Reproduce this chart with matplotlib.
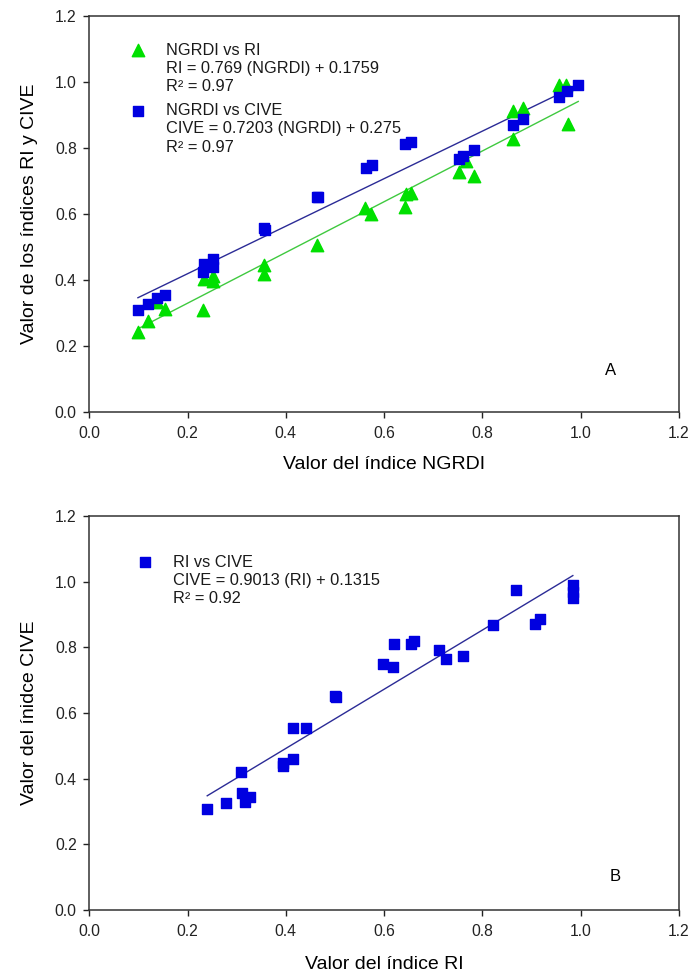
import numpy as np
from matplotlib import pyplot as plt

plt.rcParams['font.family'] = ['Liberation Sans', 'DejaVu Sans']

# Panel A: NGRDI vs RI (triangles) and NGRDI vs CIVE (squares)
ngrdi_ri = [0.099, 0.119, 0.138, 0.154, 0.231, 0.233, 0.252, 0.252, 0.355, 0.355,
            0.463, 0.562, 0.573, 0.642, 0.644, 0.654, 0.753, 0.767, 0.782, 0.863,
            0.863, 0.883, 0.956, 0.970, 0.975]
ri_a = [0.241, 0.277, 0.332, 0.313, 0.310, 0.402, 0.411, 0.396, 0.417, 0.444,
        0.505, 0.618, 0.600, 0.621, 0.661, 0.664, 0.728, 0.761, 0.716, 0.828,
        0.913, 0.922, 0.992, 0.992, 0.874]

ngrdi_cive = [0.099, 0.119, 0.138, 0.154, 0.231, 0.233, 0.252, 0.252, 0.355, 0.358,
              0.463, 0.466, 0.563, 0.575, 0.642, 0.654, 0.753, 0.761, 0.782, 0.863,
              0.883, 0.956, 0.973, 0.995]
cive_a = [0.310, 0.326, 0.344, 0.356, 0.423, 0.447, 0.463, 0.438, 0.557, 0.553,
          0.651, 0.653, 0.738, 0.748, 0.813, 0.819, 0.767, 0.776, 0.795, 0.871,
          0.889, 0.956, 0.974, 0.992]

# Panel B: RI vs CIVE
ri_b = [0.240, 0.278, 0.308, 0.310, 0.317, 0.327, 0.395, 0.395, 0.414, 0.415,
        0.441, 0.500, 0.502, 0.598, 0.618, 0.620, 0.654, 0.661, 0.712, 0.725,
        0.761, 0.822, 0.869, 0.906, 0.918, 0.984, 0.984, 0.984]
cive_b = [0.309, 0.326, 0.419, 0.356, 0.328, 0.343, 0.439, 0.449, 0.461, 0.554,
          0.554, 0.652, 0.648, 0.750, 0.740, 0.810, 0.810, 0.820, 0.792, 0.765,
          0.774, 0.868, 0.973, 0.870, 0.887, 0.990, 0.969, 0.951]

# regression coefficients (slope, intercept)
fit_ri = (0.769, 0.1759)
fit_cive = (0.7203, 0.275)
fit_b = (0.9013, 0.1315)

ticks = [0.0, 0.2, 0.4, 0.6, 0.8, 1.0, 1.2]
green = '#00e000'
blue = '#0000e0'
green_line = '#3fc93f'
blue_line = '#2b2b96'


def style_axes(ax):
    ax.set_xlim(0, 1.2)
    ax.set_ylim(0, 1.2)
    ax.set_xticks(ticks)
    ax.set_yticks(ticks)
    ax.set_xticklabels(['%.1f' % t for t in ticks])
    ax.set_yticklabels(['%.1f' % t for t in ticks])
    ax.tick_params(direction='out', length=4, width=1, labelsize=11.3, pad=5,
                   colors='#222222')
    ax.tick_params(axis='x', pad=6)
    for s in ax.spines.values():
        s.set_linewidth(1.1)
        s.set_color('#333333')


def fit_line(ax, x, coef, color):
    xs = np.array([min(x), max(x)])
    ax.plot(xs, coef[0] * xs + coef[1], color=color, lw=1.0, zorder=2)


def legend_block(ax, xm, xt, y0, marker, color, ms, lines):
    ax.scatter([xm], [y0], marker=marker, s=ms, color=color,
               transform=ax.transAxes, clip_on=False)
    for i, line in enumerate(lines):
        ax.text(xt, y0 - i * 0.0462, line, transform=ax.transAxes,
                fontsize=11.8, va='center', ha='left', color='#1a1a1a')


fig = plt.figure(figsize=(6.91, 9.77), dpi=100)

all_ngrdi = ngrdi_ri + ngrdi_cive

ax1 = fig.add_axes([0.1292, 0.5783, 0.8534, 0.4053])
style_axes(ax1)
fit_line(ax1, all_ngrdi, fit_ri, green_line)
fit_line(ax1, all_ngrdi, fit_cive, blue_line)
ax1.scatter(ngrdi_ri, ri_a, marker='^', s=80, color=green, zorder=3)
ax1.scatter(ngrdi_cive, cive_a, marker='s', s=58, color=blue, zorder=4)
legend_block(ax1, 0.082, 0.130, 0.914, '^', green, 80,
             ['NGRDI vs RI', 'RI = 0.769 (NGRDI) + 0.1759', 'R\u00b2 = 0.97'])
legend_block(ax1, 0.082, 0.130, 0.761, 's', blue, 58,
             ['NGRDI vs CIVE', 'CIVE = 0.7203 (NGRDI) + 0.275', 'R\u00b2 = 0.97'])
ax1.text(0.884, 0.104, 'A', transform=ax1.transAxes, fontsize=12,
         ha='center', va='center')
ax1.set_xlabel('Valor del índice NGRDI', fontsize=14, labelpad=11)
ax1.set_ylabel('Valor de los índices RI y CIVE', fontsize=14, labelpad=12)

ax2 = fig.add_axes([0.1292, 0.0686, 0.8534, 0.4033])
style_axes(ax2)
fit_line(ax2, ri_b, fit_b, blue_line)
ax2.scatter(ri_b, cive_b, marker='s', s=58, color=blue, zorder=4)
legend_block(ax2, 0.094, 0.142, 0.883, 's', blue, 58,
             ['RI vs CIVE', 'CIVE = 0.9013 (RI) + 0.1315', 'R\u00b2 = 0.92'])
ax2.text(0.891, 0.086, 'B', transform=ax2.transAxes, fontsize=12,
         ha='center', va='center')
ax2.set_xlabel('Valor del índice RI', fontsize=14, labelpad=12)
ax2.set_ylabel('Valor del ínidce CIVE', fontsize=14, labelpad=12)

fig.savefig('out.png', dpi=100)
